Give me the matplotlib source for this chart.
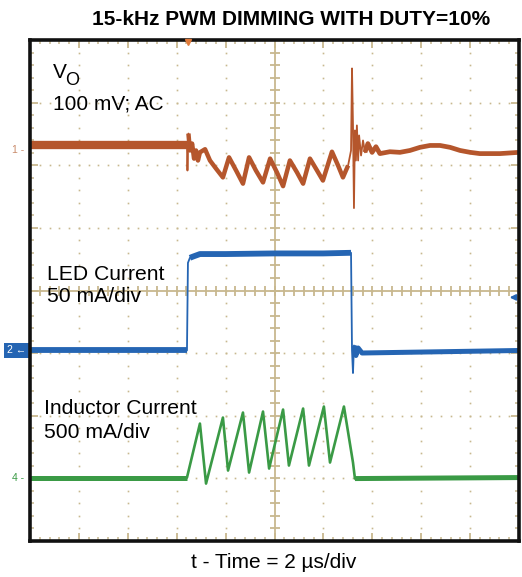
import numpy as np
import matplotlib
matplotlib.use("Agg")
import matplotlib.pyplot as plt
from matplotlib.transforms import blended_transform_factory

plt.rcParams['font.family'] = ['Liberation Sans', 'DejaVu Sans']

# ---------------- data ----------------
# time axis in microseconds (2 us/div, 10 div)
vo_t = [0.0, 6.42, 6.44, 6.48, 6.54, 6.63, 6.71, 6.79, 6.87, 6.95, 7.16, 7.36, 7.61,
        7.89, 8.14, 8.43, 8.71, 8.96, 9.24, 9.53, 9.82, 10.10, 10.35, 10.63, 10.92,
        11.17, 11.45, 11.74, 11.98, 12.35, 12.60, 12.80, 13.01, 13.13, 13.17, 13.21,
        13.25, 13.29, 13.33, 13.37, 13.42, 13.46, 13.54, 13.62, 13.70, 13.82, 13.99,
        14.15, 14.31, 14.72, 15.13, 15.54, 15.95, 16.36, 16.77, 17.18, 17.59, 18.00,
        18.40, 18.81, 19.22, 20.0]
# output voltage ripple, AC coupled, mV (100 mV/div)
vo_mv = [0, 0, -40, 19, -8, 3, -21, -8, -24, -11, -6, -24, -37,
         -51, -19, -40, -61, -19, -40, -59, -21, -43, -65, -24, -43,
         -61, -21, -40, -56, -10, -32, -51, -32, -8, 123, 32,
         -100, 24, -24, 32, -24, 16, -16, 8, -11, 3, -11,
         -2, -13, -10, -11, -8, -3, 0, 0, -3, -8, -11,
         -13, -13, -13, -11]

led_t = [0.0, 6.42, 6.46, 6.54, 6.67, 6.95, 8.0, 10.0, 12.0, 13.13, 13.17, 13.21,
         13.25, 13.33, 13.42, 13.58, 20.0]
# LED current, mA (50 mA/div)
led_ma = [0, 0, 70, 74, 75, 77, 77, 77.5, 77.5, 78, 0, -18,
          4, -4, 2, -2, 0]

ind_t = [0.0, 6.42, 6.95, 7.20, 7.89, 8.10, 8.71, 8.96, 9.53, 9.78, 10.35, 10.59,
         11.17, 11.41, 12.02, 12.27, 12.84, 13.21, 13.29, 20.0]
# inductor current, mA (500 mA/div)
ind_ma = [0, 0, 431, -48, 479, 56, 519, 40, 527, 72, 543, 96,
          551, 96, 567, 120, 567, 120, -8, 0]

title = "15-kHz PWM DIMMING WITH DUTY=10%"
xlabel = "t - Time = 2 \u00b5s/div"

# ---------------- style / layout ----------------
GRID = '#c8b88f'
C_VO = '#b5562c'
C_LED = '#2565b3'
C_IND = '#3a9a45'
VO_SCALE, LED_SCALE, IND_SCALE = 100.0, 50.0, 500.0     # units per div
VO_OFF, LED_OFF, IND_OFF = 2.316, -0.958, -2.987        # screen position, div
CH1_MARK, CH2_MARK, CH4_MARK = 2.24, -0.958, -3.0

W, H = 522, 577
fig = plt.figure(figsize=(W / 100, H / 100), dpi=100)
ax = fig.add_axes([30 / W, 36 / H, 489 / W, 501 / H])
ax.set_xlim(0, 20)
ax.set_ylim(-4, 4)

# dotted graticule
for gx in np.arange(2, 20, 2):
    if gx == 10:
        continue
    yy = np.arange(-4, 4.001, 0.2)
    ax.plot(np.full_like(yy, gx), yy, ls='none', marker='s', ms=1.2, color=GRID, mew=0)
for gy in range(-3, 4):
    if gy == 0:
        continue
    xx = np.arange(0, 20.001, 0.4)
    ax.plot(xx, np.full_like(xx, gy), ls='none', marker='s', ms=1.2, color=GRID, mew=0)

# center cross with ticks
ax.axvline(10, color=GRID, lw=1.3, zorder=1)
ax.axhline(0, color=GRID, lw=1.3, zorder=1)
yy = np.arange(-4, 4.001, 0.2)
ax.plot(np.full_like(yy, 10), yy, ls='none', marker='_', ms=7, mew=1.3, color=GRID)
xx = np.arange(0, 20.001, 0.4)
ax.plot(xx, np.zeros_like(xx), ls='none', marker='|', ms=7, mew=1.3, color=GRID)


def trace(t, v, scale, off, color, thin, thick_parts):
    t = np.asarray(t)
    y = np.asarray(v) / scale + off
    ax.plot(t, y, color=color, lw=thin, zorder=3)
    for (i0, i1, lw) in thick_parts:
        ax.plot(t[i0:i1], y[i0:i1], color=color, lw=lw, zorder=3,
                solid_capstyle='butt')


# traces: thin for fast edges, thicker where the scope shows noise bands
trace(vo_t, vo_mv, VO_SCALE, VO_OFF, C_VO, 1.3,
      [(0, 2, 6.0), (3, 33, 3.2), (44, 62, 3.4)])
trace(led_t, led_ma, LED_SCALE, LED_OFF, C_LED, 1.3,
      [(0, 2, 4.2), (3, 10, 4.2), (12, 17, 3.6)])
trace(ind_t, ind_ma, IND_SCALE, IND_OFF, C_IND, 1.9,
      [(0, 2, 3.6), (18, 20, 3.6)])

# frame and ticks
for s in ax.spines.values():
    s.set_linewidth(2.6)
    s.set_color('#111111')
    s.set_zorder(5)
ax.set_xticks(np.arange(0, 20.001, 2))
ax.set_xticks(np.arange(0, 20.001, 0.4), minor=True)
ax.set_yticks(np.arange(-4, 4.001, 1))
ax.set_yticks(np.arange(-4, 4.001, 0.2), minor=True)
ax.tick_params(which='both', direction='in', top=True, right=True, color=GRID,
               labelbottom=False, labelleft=False)
ax.tick_params(which='major', length=6, width=1.3)
ax.tick_params(which='minor', length=3, width=1.1)

# channel markers
tr = blended_transform_factory(ax.transAxes, ax.transData)
ax.text(-0.012, CH1_MARK, "1 -", transform=tr, ha='right', va='center',
        color='#c98a6a', fontsize=7.5, clip_on=False)
ax.text(-0.008, CH2_MARK, "2 \u2190", transform=tr, ha='right', va='center',
        color='white', fontsize=7.5, clip_on=False,
        bbox=dict(boxstyle='square,pad=0.25', fc=C_LED, ec='none'))
ax.text(-0.012, CH4_MARK, "4 -", transform=tr, ha='right', va='center',
        color=C_IND, fontsize=7.5, clip_on=False)
ax.plot([6.46], [3.97], marker='v', ms=5, color='#e07a3a', clip_on=False, zorder=6)
ax.annotate('', xy=(19.5, -0.11), xytext=(19.95, -0.11),
            arrowprops=dict(arrowstyle='-|>', color=C_LED, lw=1.5, mutation_scale=8))

# text labels
def ftext(px, py, s, **kw):
    fig.text(px / W, 1 - py / H, s, va='baseline', **kw)

ftext(291, 25, title, ha='center', fontsize=15, fontweight='bold')
ftext(53, 78, "V", fontsize=15)
ftext(65, 85, "O", fontsize=13)
ftext(53, 109, "100 mV; AC", fontsize=15)
ftext(47, 280, "LED Current", fontsize=15.2)
ftext(47, 302, "50 mA/div", fontsize=15.2)
ftext(44, 414, "Inductor Current", fontsize=15.2)
ftext(44, 438, "500 mA/div", fontsize=15.2)
ftext(274, 568, xlabel, ha='center', fontsize=15)

fig.savefig("out.png", dpi=100)
